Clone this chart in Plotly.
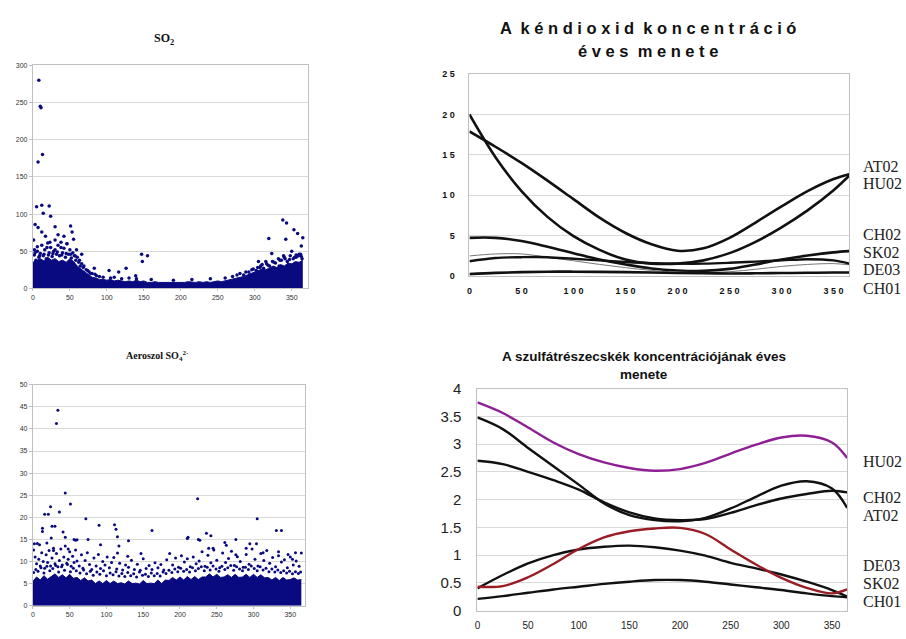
import plotly.graph_objects as go

W, H = 906, 639

# ---------------- data: SO2 daily scatter (top-left) ----------------
so2_band_x = list(range(0, 370, 5))
so2_band_y = [35, 38, 40, 37, 42, 38, 40, 36, 38, 35, 40, 36, 30, 26, 22, 18, 15, 14, 12, 12,
              11, 12, 10, 11, 10, 9, 10, 9, 11, 9, 10, 8, 8, 9, 8, 8, 7, 8, 8, 7,
              8, 8, 9, 8, 8, 9, 8, 9, 8, 9, 10, 9, 10, 11, 12, 13, 14, 16, 18, 20,
              22, 24, 26, 25, 28, 30, 28, 32, 30, 34, 33, 36, 35, 38]
so2_pts_x = [8, 10, 11, 13, 7, 5, 12, 22, 14, 24, 3, 7, 12, 30, 34, 42, 51, 53, 55, 46, 59, 66, 38,
             1, 2, 6, 17, 19, 23, 30, 83, 103, 116, 126, 147, 155, 148, 139, 84,
             338, 343, 353, 358, 365, 363, 319, 323, 342, 339, 350, 362, 305, 315, 333, 356, 293, 307,
             2, 4, 6, 8, 10, 12, 14, 16, 18, 20, 22, 24, 26, 28, 30, 32, 34, 36, 38, 40, 42, 44,
             46, 48, 50, 52, 54, 56, 58, 60, 62, 64, 66, 68, 72, 76, 80,
             280, 285, 292, 298, 302, 308, 312, 316, 320, 324, 328, 332, 336, 340, 344, 348, 352,
             356, 360, 364, 90, 110, 130, 160, 190, 215, 240, 260,
             3, 9, 15, 21, 27, 33, 39, 45, 51, 57, 63, 69, 74, 78, 86, 95, 105, 120, 140,
             270, 276, 288, 296, 304, 310, 318, 326, 334, 341, 347, 354, 359, 363]
so2_pts_y = [280, 245, 243, 180, 170, 110, 112, 111, 101, 97, 86, 82, 76, 83, 72, 70, 84, 76, 66, 60, 52, 46, 55,
             65, 52, 56, 70, 55, 62, 52, 27, 24, 22, 27, 46, 44, 36, 17, 19,
             92, 88, 79, 74, 68, 57, 67, 47, 66, 44, 50, 46, 36, 36, 30, 45, 18, 28,
             45, 38, 50, 42, 47, 58, 44, 52, 40, 61, 48, 55, 43, 50, 65, 46, 58, 44, 62, 48, 54, 42,
             60, 46, 52, 41, 48, 44, 38, 42, 35, 30, 33, 28, 25, 22, 20,
             20, 18, 22, 26, 24, 30, 27, 33, 30, 36, 34, 40, 38, 42, 36, 44, 40,
             42, 46, 40, 16, 15, 14, 12, 11, 12, 13, 14,
             48, 44, 46, 45, 47, 49, 45, 47, 46, 44, 38, 30, 24, 20, 17, 15, 14, 13, 13,
             16, 18, 22, 25, 28, 32, 31, 35, 38, 40, 39, 42, 44, 43]

# ---------------- data: aerosol SO4 daily scatter (bottom-left) ----------------
so4_band_x = list(range(0, 370, 5))
so4_band_y = [5.5, 6.5, 5.8, 6.8, 6.0, 6.6, 7.2, 6.4, 7.0, 6.3, 7.1, 6.2, 6.4, 5.7, 6.3, 5.6, 5.8, 5.0, 5.6, 5.0,
              5.7, 5.0, 5.6, 5.0, 5.2, 4.9, 5.6, 5.0, 5.1, 4.9, 5.7, 5.0, 5.1, 5.0, 5.8, 5.0, 5.8, 5.7, 6.4, 5.8,
              6.5, 5.8, 6.6, 5.9, 6.6, 5.9, 6.5, 6.5, 7.2, 6.5, 7.1, 6.4, 6.5, 7.0, 6.4, 7.1, 6.4, 6.5, 7.1, 6.4,
              7.1, 6.4, 7.0, 6.3, 6.4, 5.8, 6.4, 5.7, 6.4, 5.8, 5.9, 6.3, 5.8, 5.9]
so4_pts_x = [34, 32, 44, 51, 24, 36, 16, 21, 72, 26, 30, 13, 13, 41, 44, 56, 58, 2, 9, 90, 111, 113, 92, 115,
             117, 115, 129, 130, 147, 162, 210, 211, 224, 225, 227, 236, 242, 239, 245, 261, 263, 276, 276,
             305, 295, 304, 290, 313, 331, 338, 334, 357, 347, 353, 75, 1, 6, 19, 60, 25, 28, 48,
             3, 5, 8, 10, 12, 14, 16, 18, 20, 22, 24, 26, 28, 30, 32, 34, 36, 38, 40, 42, 44, 46, 48, 50,
             52, 54, 56, 58, 60, 63, 66, 68, 71, 74, 77, 80, 83, 86, 89, 92, 95, 98, 101, 104, 107, 110,
             114, 118, 122, 126, 130, 134, 138, 142, 146, 150, 154, 158, 162, 166, 170, 174, 178,
             182, 186, 190, 194, 198, 202, 206, 210, 214, 218, 222, 226, 230, 234, 238, 242, 246, 250,
             254, 258, 262, 266, 270, 274, 278, 282, 286, 290, 294, 298, 302, 306, 310, 314, 318, 322,
             326, 330, 334, 338, 342, 346, 350, 354, 358, 362, 365]
so4_pts_y = [44.2, 41.2, 25.5, 23.0, 22.4, 21.2, 20.7, 20.7, 19.7, 18.0, 18.0, 17.5, 16.8, 16.7, 15.5, 15.0,
             14.8, 14.0, 13.8, 18.2, 18.3, 17.3, 13.8, 15.6, 13.5, 11.9, 11.2, 14.7, 11.8, 17.0, 15.2, 15.5,
             24.2, 15.0, 14.8, 16.4, 15.8, 13.0, 13.0, 14.3, 13.7, 15.0, 11.5, 19.7, 14.0, 14.0, 13.0, 12.0,
             17.0, 17.0, 12.2, 12.0, 11.6, 10.5, 15.0, 12.6, 14.1, 14.2, 14.9, 15.3, 12.5, 12.8,
             11.0, 9.5, 10.5, 9.0, 12.0, 10.0, 8.5, 11.5, 9.8, 12.5, 9.0, 10.8, 13.0, 9.5, 11.8, 8.8,
             10.2, 12.8, 9.2, 11.0, 13.5, 9.6, 10.5, 12.2, 8.9, 11.2, 9.8, 12.6, 10.1, 9.0, 11.5, 8.5,
             10.2, 12.0, 9.3, 8.2, 10.8, 9.0, 11.6, 8.4, 10.0, 9.2, 11.0, 8.6, 9.8, 10.9, 8.3, 9.6, 8.1,
             9.2, 8.7, 10.3, 8.2, 9.4, 8.0, 10.6, 8.4, 9.1, 8.2, 9.7, 8.6, 9.3, 8.1,
             10.4, 11.8, 9.2, 10.8, 8.7, 11.3, 9.9, 10.6, 8.8, 11.0, 9.5, 10.1, 12.2, 8.9, 11.4, 9.7,
             12.6, 10.3, 8.6, 11.9, 9.8, 10.7, 12.3, 9.1, 11.1, 10.0, 8.7, 11.6, 9.4, 12.8, 10.5, 9.0,
             11.8, 10.2, 12.5, 9.6, 10.9, 8.8, 11.3, 9.9, 10.4, 8.6, 11.0, 9.2, 10.1, 8.9, 11.9]
so4_mid_x = [1, 4, 7, 11, 15, 19, 23, 27, 31, 35, 39, 43, 47, 51, 55, 59, 64, 69, 73, 78, 82, 87, 91, 96,
             100, 105, 109, 113, 117, 121, 125, 129, 133, 137, 141, 145, 149, 153, 157, 161, 165, 169,
             173, 177, 181, 185, 189, 193, 197, 201, 205, 209, 213, 217, 221, 225, 229, 233, 237, 241,
             245, 249, 253, 257, 261, 265, 269, 273, 277, 281, 285, 289, 293, 297, 301, 305, 309, 313,
             317, 321, 325, 329, 333, 337, 341, 345, 349, 353, 357, 361, 364]
so4_mid_y = [7.5, 8.2, 7.8, 8.6, 7.4, 8.9, 7.9, 8.4, 9.1, 7.6, 8.8, 8.0, 9.3, 7.7, 8.5, 7.9, 7.4, 8.1,
             7.2, 7.8, 6.9, 7.6, 7.1, 7.9, 6.8, 7.4, 7.0, 7.7, 6.7, 7.3, 6.6, 7.5, 6.8, 7.2, 6.5, 7.6,
             6.9, 7.1, 6.6, 7.4, 6.8, 7.3, 6.7, 7.6, 7.3, 8.0, 7.5, 8.3, 7.7, 8.5, 7.8, 8.2, 7.6, 8.6,
             7.9, 8.4, 8.8, 7.9, 8.7, 8.1, 9.0, 8.3, 7.8, 8.9, 8.2, 8.6, 9.1, 8.0, 8.8, 8.3, 7.9, 8.7,
             8.2, 9.0, 8.4, 7.9, 8.8, 8.1, 8.5, 7.7, 8.3, 7.6, 8.1, 7.5, 7.9, 7.4, 7.8, 7.2, 7.7, 7.3, 7.6]

# ---------------- data: SO2 annual course (top-right) ----------------
days = [0, 25, 50, 75, 100, 125, 150, 175, 200, 225, 250, 275, 300, 325, 350, 365]
so2_curve_a = [20.0, 14.7, 10.5, 7.3, 4.9, 3.2, 2.0, 1.5, 1.5, 1.9, 2.8, 4.2, 6.0, 8.1, 10.6, 12.4]
so2_curve_b = [17.9, 16.0, 14.0, 11.8, 9.5, 7.2, 5.3, 3.9, 3.1, 3.4, 4.7, 6.6, 8.6, 10.5, 12.0, 12.6]
so2_curve_c = [4.7, 4.7, 4.3, 3.6, 2.8, 2.0, 1.4, 0.9, 0.65, 0.6, 0.85, 1.4, 2.0, 2.5, 2.9, 3.05]
so2_curve_d = [1.8, 2.2, 2.3, 2.3, 2.1, 1.9, 1.7, 1.55, 1.5, 1.5, 1.6, 1.75, 1.9, 2.05, 1.9, 1.5]
so2_curve_e = [2.45, 2.7, 2.7, 2.3, 1.85, 1.4, 1.0, 0.65, 0.45, 0.4, 0.5, 0.8, 1.15, 1.4, 1.5, 1.35]
so2_curve_f = [0.2, 0.35, 0.45, 0.5, 0.5, 0.48, 0.45, 0.4, 0.33, 0.3, 0.28, 0.3, 0.33, 0.36, 0.4, 0.4]
so2_labels = ["AT02", "HU02", "CH02", "SK02", "DE03", "CH01"]

# ---------------- data: sulfate annual course (bottom-right) ----------------
so4_hu02 = [3.75, 3.56, 3.3, 3.03, 2.82, 2.67, 2.57, 2.52, 2.55, 2.66, 2.83, 2.99, 3.12, 3.15, 3.03, 2.75]
so4_curve_a = [3.48, 3.27, 2.93, 2.6, 2.27, 1.93, 1.72, 1.63, 1.61, 1.67, 1.84, 2.05, 2.25, 2.33, 2.2, 1.85]
so4_curve_b = [2.7, 2.64, 2.5, 2.35, 2.18, 1.95, 1.77, 1.66, 1.63, 1.65, 1.76, 1.9, 2.02, 2.1, 2.16, 2.13]
so4_red = [0.43, 0.44, 0.6, 0.84, 1.11, 1.32, 1.43, 1.48, 1.49, 1.38, 1.1, 0.83, 0.59, 0.41, 0.31, 0.38]
so4_curve_c = [0.4, 0.64, 0.85, 1.0, 1.1, 1.15, 1.17, 1.14, 1.08, 0.99, 0.86, 0.76, 0.65, 0.52, 0.37, 0.25]
so4_curve_d = [0.21, 0.26, 0.32, 0.38, 0.43, 0.48, 0.52, 0.55, 0.55, 0.52, 0.47, 0.42, 0.37, 0.31, 0.26, 0.24]
so4_labels = ["HU02", "CH02", "AT02", "DE03", "SK02", "CH01"]

tr_xtick_vals = [0, 50, 100, 150, 200, 250, 300, 350]
tr_xtick_text = ["0", "5 0", "1 0 0", "1 5 0", "2 0 0", "2 5 0", "3 0 0", "3 5 0"]
tr_ytick_vals = [0, 5, 10, 15, 20, 25]
tr_ytick_text = ["0", "5", "1 0", "1 5", "2 0", "2 5"]


def px(x):
    return x / W


def py(y):
    return 1 - y / H


NAVY = "#0a0a80"
GRID = "#d9d9d9"
BORDER = "#c0c0c0"

fig = go.Figure()

# top-left scatter
fig.add_trace(go.Scatter(x=so2_band_x, y=so2_band_y, mode="lines", fill="tozeroy",
                         line=dict(color=NAVY, width=1, shape="linear"), fillcolor=NAVY,
                         xaxis="x", yaxis="y", showlegend=False, hoverinfo="skip"))
fig.add_trace(go.Scatter(x=so2_pts_x, y=so2_pts_y, mode="markers",
                         marker=dict(color=NAVY, size=3.5), xaxis="x", yaxis="y", showlegend=False))
# bottom-left scatter
fig.add_trace(go.Scatter(x=so4_band_x, y=so4_band_y, mode="lines", fill="tozeroy",
                         line=dict(color=NAVY, width=1), fillcolor=NAVY,
                         xaxis="x2", yaxis="y2", showlegend=False, hoverinfo="skip"))
fig.add_trace(go.Scatter(x=so4_mid_x, y=so4_mid_y, mode="markers",
                         marker=dict(color=NAVY, size=3), xaxis="x2", yaxis="y2", showlegend=False))
fig.add_trace(go.Scatter(x=so4_pts_x, y=so4_pts_y, mode="markers",
                         marker=dict(color=NAVY, size=3), xaxis="x2", yaxis="y2", showlegend=False))

# top-right curves
for ys, w, c in [(so2_curve_a, 2.6, "#111"), (so2_curve_b, 2.6, "#111"), (so2_curve_c, 2.6, "#111"),
                 (so2_curve_e, 1.0, "#777"), (so2_curve_d, 2.4, "#111"), (so2_curve_f, 2.6, "#111")]:
    fig.add_trace(go.Scatter(x=days, y=ys, mode="lines",
                             line=dict(color=c, width=w, shape="spline", smoothing=1.0),
                             xaxis="x3", yaxis="y3", showlegend=False))

# bottom-right curves
for ys, c in [(so4_curve_a, "#111"), (so4_curve_b, "#111"), (so4_curve_c, "#111"),
              (so4_curve_d, "#111"), (so4_red, "#9a1c24"), (so4_hu02, "#8e1f95")]:
    fig.add_trace(go.Scatter(x=days, y=ys, mode="lines",
                             line=dict(color=c, width=2.4, shape="spline", smoothing=1.0),
                             xaxis="x4", yaxis="y4", showlegend=False))

small = dict(family="Arial, Liberation Sans", size=7, color="#333")
common_ax = dict(showgrid=True, gridcolor=GRID, gridwidth=1, zeroline=False, showline=True,
                 linecolor=BORDER, linewidth=1, mirror=True)

fig.update_layout(
    width=W, height=H, margin=dict(l=0, r=0, t=0, b=0),
    paper_bgcolor="white", plot_bgcolor="white",
    xaxis=dict(domain=[px(30), px(306)], range=[0, 372], dtick=50, tickfont=small, anchor="y",
               showgrid=False, zeroline=False, showline=True, linecolor=BORDER, mirror=True,
               ticks="outside", ticklen=2, tickcolor=BORDER),
    yaxis=dict(domain=[py(287), py(58)], range=[0, 300], dtick=50, tickfont=small, anchor="x",
               ticks="outside", ticklen=3, tickcolor=BORDER, **common_ax),
    xaxis2=dict(domain=[px(30), px(303)], range=[0, 370], dtick=50, tickfont=small, anchor="y2",
                showgrid=False, zeroline=False, showline=True, linecolor=BORDER, mirror=True,
                ticks="outside", ticklen=2, tickcolor=BORDER),
    yaxis2=dict(domain=[py(613), py(386)], range=[0, 50], dtick=5, tickfont=small, anchor="x2",
                ticks="outside", ticklen=3, tickcolor=BORDER, **common_ax),
    xaxis3=dict(domain=[px(468), px(849)], range=[0, 365], tickvals=tr_xtick_vals, ticktext=tr_xtick_text,
                tickfont=dict(family="Arial, Liberation Sans", size=9, color="#111", weight="bold"),
                anchor="y3", showgrid=False, zeroline=False, showline=True, linecolor=BORDER, mirror=True,
                ticks="outside", ticklen=6, tickcolor="white"),
    yaxis3=dict(domain=[py(274), py(67)], range=[0, 25], tickvals=tr_ytick_vals, ticktext=tr_ytick_text,
                tickfont=dict(family="Arial, Liberation Sans", size=9, color="#111", weight="bold"),
                anchor="x3", ticks="outside", ticklen=12, tickcolor="white", **common_ax),
    xaxis4=dict(domain=[px(476), px(847)], range=[0, 365], dtick=50,
                tickfont=dict(family="Arial, Liberation Sans", size=10, color="#222"),
                anchor="y4", showgrid=False, zeroline=False, showline=True, linecolor=BORDER, mirror=True,
                ticks="outside", ticklen=5, tickcolor="white"),
    yaxis4=dict(domain=[py(618), py(390)], range=[0, 4], dtick=0.5,
                tickfont=dict(family="Arial, Liberation Sans", size=15, color="#222"),
                anchor="x4", ticks="outside", ticklen=12, tickcolor="white", **common_ax),
)

ann = []
serif = "Liberation Serif, Times New Roman, serif"
ann.append(dict(x=px(162), y=py(31), text="<b>SO<sub>2</sub></b>",
                font=dict(family=serif, size=12, color="#111")))
ann.append(dict(x=px(155), y=py(356), text="<b>Aeroszol SO<sub>4</sub><sup>2-</sup></b>",
                font=dict(family=serif, size=10, color="#111")))
tfont = dict(family="Arial, Liberation Sans", size=16.5, color="#111", weight="bold")
ann.append(dict(x=px(647), y=py(20), text="A  k é n d i o x i d  k o n c e n t r á c i ó", font=tfont))
ann.append(dict(x=px(647), y=py(43), text="é v e s  m e n e t e", font=tfont))
bfont = dict(family="Arial, Liberation Sans", size=13.5, color="#111", weight="bold")
ann.append(dict(x=px(643), y=py(357), text="A szulfátrészecskék koncentrációjának éves", font=bfont))
ann.append(dict(x=px(643), y=py(376), text="menete", font=bfont))

lab_font = dict(family=serif, size=16, color="#222")
for t, yy in zip(so2_labels, [162, 179, 232, 250, 268, 287]):
    ann.append(dict(x=px(861), y=py(yy), text=t, xanchor="left", font=lab_font))
for t, yy in zip(so4_labels, [465, 502, 520, 572, 590, 609]):
    ann.append(dict(x=px(861), y=py(yy), text=t, xanchor="left", font=lab_font))

for a in ann:
    a.setdefault("xanchor", "center")
    a.update(xref="paper", yref="paper", yanchor="middle", showarrow=False)
fig.update_layout(annotations=ann)

fig.write_html("out.html")
